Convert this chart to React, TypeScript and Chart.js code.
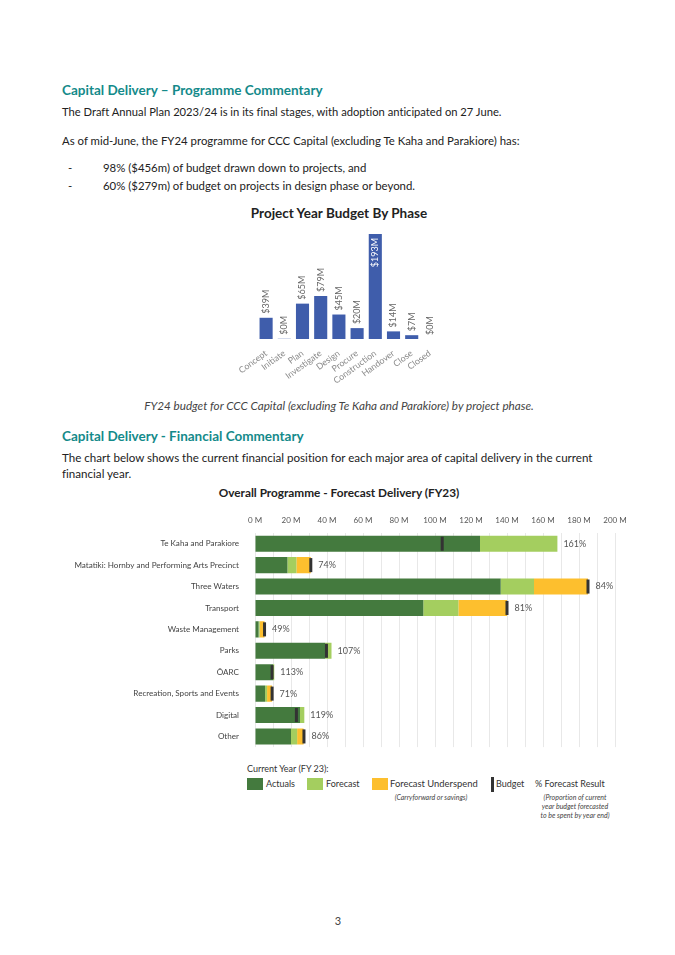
import React, { useEffect, useRef } from "react";
import { Chart, registerables } from "chart.js";
Chart.register(...registerables);

const phases = ["Concept", "Initiate", "Plan", "Investigate", "Design", "Procure", "Construction", "Handover", "Close", "Closed"];
const phaseBudget = [39, 0.4, 65, 79, 45, 20, 193, 14, 7, 0];

const areas = [
  "Te Kaha and Parakiore",
  "Matatiki: Hornby and Performing Arts Precinct",
  "Three Waters",
  "Transport",
  "Waste Management",
  "Parks",
  "ŌARC",
  "Recreation, Sports and Events",
  "Digital",
  "Other",
];
const actuals = [125, 18, 136.5, 93.5, 2.0, 39, 10, 5.6, 25, 20];
const forecast = [43, 5, 18.5, 19.5, 0.6, 3.5, 0.7, 1.1, 2.4, 3.4];
const underspend = [0, 8, 30, 27, 2.7, 0, 0, 2.8, 0, 3.6];
const budget = [104, 31, 185, 140, 5.3, 39.7, 9.5, 9.5, 23, 27.2];
const forecastResult = ["161%", "74%", "84%", "81%", "49%", "107%", "113%", "71%", "119%", "86%"];

const BLUE = "#3f5dab";
const DARK_GREEN = "#447a3e";
const LIGHT_GREEN = "#a4ce5f";
const AMBER = "#fdbf2e";
const BUDGET = "#333333";
const TEAL = "#148a8a";
const DOC_FONT = "Lato, 'Open Sans', sans-serif";

const phaseLabelsPlugin = {
  id: "phaseLabels",
  afterDatasetsDraw(chart: any) {
    const ctx = chart.ctx;
    const meta = chart.getDatasetMeta(0);
    ctx.save();
    ctx.font = `9px ${DOC_FONT}`;
    meta.data.forEach((bar: any, i: number) => {
      const label = `$${Math.round(phaseBudget[i])}M`;
      const inside = phaseBudget[i] > 150;
      ctx.save();
      ctx.translate(bar.x, inside ? bar.y + 4 : bar.y - 4);
      ctx.rotate(-Math.PI / 2);
      ctx.textAlign = inside ? "right" : "left";
      ctx.textBaseline = "middle";
      ctx.fillStyle = inside ? "#ffffff" : "#666666";
      ctx.fillText(label, 0, 0);
      ctx.restore();
    });
    ctx.restore();
  },
};

const budgetPlugin = {
  id: "budgetMarks",
  afterDatasetsDraw(chart: any) {
    const ctx = chart.ctx;
    const xs = chart.scales.x;
    const meta = chart.getDatasetMeta(0);
    ctx.save();
    meta.data.forEach((bar: any, i: number) => {
      const h = bar.height;
      const bx = xs.getPixelForValue(budget[i]);
      ctx.fillStyle = BUDGET;
      ctx.fillRect(bx - 1.5, bar.y - h / 2 + 1, 3, h - 2);
      const total = actuals[i] + forecast[i] + underspend[i];
      const endX = Math.max(xs.getPixelForValue(total), bx + 1.5);
      ctx.font = `9px ${DOC_FONT}`;
      ctx.fillStyle = "#555555";
      ctx.textAlign = "left";
      ctx.textBaseline = "middle";
      ctx.fillText(forecastResult[i], endX + 6, bar.y);
    });
    ctx.restore();
  },
};

function PhaseChart() {
  const ref = useRef<HTMLCanvasElement | null>(null);
  useEffect(() => {
    if (!ref.current) return;
    const chart = new Chart(ref.current, {
      type: "bar",
      data: {
        labels: phases,
        datasets: [
          {
            data: phaseBudget,
            backgroundColor: BLUE,
            categoryPercentage: 1,
            barPercentage: 0.72,
          },
        ],
      },
      options: {
        animation: false,
        responsive: false,
        maintainAspectRatio: false,
        layout: { padding: { left: 37, right: 21, top: 6, bottom: 0 } },
        plugins: { legend: { display: false }, tooltip: { enabled: false } },
        scales: {
          y: { display: false, min: 0, max: 193 },
          x: {
            grid: { display: false },
            border: { display: false },
            ticks: {
              autoSkip: false,
              minRotation: 36,
              maxRotation: 36,
              color: "#8a8a8a",
              font: { family: DOC_FONT, size: 8.8 },
              padding: 1,
            },
            afterFit: (s: any) => {
              s.height = 49;
            },
          },
        },
      },
      plugins: [phaseLabelsPlugin],
    });
    return () => chart.destroy();
  }, []);
  return <canvas ref={ref} width={240} height={160} style={{ position: "absolute", left: 220, top: 228, width: 240, height: 160 }} />;
}

function ForecastChart() {
  const ref = useRef<HTMLCanvasElement | null>(null);
  useEffect(() => {
    if (!ref.current) return;
    const chart = new Chart(ref.current, {
      type: "bar",
      data: {
        labels: areas,
        datasets: [
          { label: "Actuals", data: actuals, backgroundColor: DARK_GREEN, categoryPercentage: 1, barPercentage: 0.75 },
          { label: "Forecast", data: forecast, backgroundColor: LIGHT_GREEN, categoryPercentage: 1, barPercentage: 0.75 },
          { label: "Forecast Underspend", data: underspend, backgroundColor: AMBER, categoryPercentage: 1, barPercentage: 0.75 },
        ],
      },
      options: {
        indexAxis: "y",
        animation: false,
        responsive: false,
        maintainAspectRatio: false,
        layout: { padding: { left: 0, right: 25, top: 0, bottom: 2 } },
        plugins: { legend: { display: false }, tooltip: { enabled: false } },
        scales: {
          x: {
            position: "top",
            stacked: true,
            min: 0,
            max: 200,
            grid: { color: "#e8e8e8", drawTicks: false },
            border: { display: false },
            ticks: {
              stepSize: 10,
              autoSkip: false,
              maxRotation: 0,
              color: "#555555",
              font: { family: DOC_FONT, size: 8 },
              padding: 8,
              callback: (v: any) => (Number(v) % 20 === 0 ? `${v} M` : ""),
            },
            afterFit: (s: any) => {
              s.height = 28;
            },
          },
          y: {
            stacked: true,
            grid: { display: false },
            border: { display: false },
            ticks: { color: "#444444", font: { family: DOC_FONT, size: 8.1 }, padding: 8 },
            afterFit: (s: any) => {
              s.width = 195;
            },
          },
        },
      },
      plugins: [budgetPlugin],
    });
    return () => chart.destroy();
  }, []);
  return <canvas ref={ref} width={580} height={255} style={{ position: "absolute", left: 60, top: 505, width: 580, height: 255 }} />;
}

function T(props: { x: number; y: number; size?: number; bold?: boolean; italic?: boolean; color?: string; center?: boolean; children: any; w?: number }) {
  const { x, y, size = 11.4, bold, italic, color = "#222", center, children, w } = props;
  const lh = 16;
  const style: any = {
    position: "absolute",
    top: y - lh / 2,
    lineHeight: `${lh}px`,
    fontSize: size,
    fontFamily: DOC_FONT,
    fontWeight: bold ? 700 : 400,
    fontStyle: italic ? "italic" : "normal",
    fontVariantLigatures: "none",
    color,
    whiteSpace: "nowrap",
  };
  if (center) {
    style.left = x - (w || 500) / 2;
    style.width = w || 500;
    style.textAlign = "center";
  } else {
    style.left = x;
  }
  return <div style={style}>{children}</div>;
}

function Swatch({ x, y, color, w = 16, h = 12 }: { x: number; y: number; color: string; w?: number; h?: number }) {
  return <div style={{ position: "absolute", left: x, top: y, width: w, height: h, background: color }} />;
}

export default function App() {
  return (
    <div style={{ position: "absolute", left: 0, top: 0, width: 675, height: 955, background: "#fff", overflow: "hidden" }}>
      <T x={62} y={90} size={13.5} bold color={TEAL}>Capital Delivery – Programme Commentary</T>
      <T x={62} y={112} size={11.2}>The Draft Annual Plan 2023/24 is in its final stages, with adoption anticipated on 27 June.</T>
      <T x={62} y={141}>As of mid-June, the FY24 programme for CCC Capital (excluding Te Kaha and Parakiore) has:</T>
      <T x={68} y={168}>-</T>
      <T x={103} y={168}>98% ($456m) of budget drawn down to projects, and</T>
      <T x={68} y={186}>-</T>
      <T x={103} y={186}>60% ($279m) of budget on projects in design phase or beyond.</T>
      <T x={339} y={213} size={13.5} bold center color="#222">Project Year Budget By Phase</T>
      <PhaseChart />
      <T x={339} y={405} size={11.7} italic center color="#444" w={560}>FY24 budget for CCC Capital (excluding Te Kaha and Parakiore) by project phase.</T>
      <T x={62} y={436} size={13.5} bold color={TEAL}>Capital Delivery - Financial Commentary</T>
      <T x={62} y={458} size={11.6}>The chart below shows the current financial position for each major area of capital delivery in the current</T>
      <T x={62} y={474} size={11.6}>financial year.</T>
      <T x={339} y={493} size={11.8} bold center color="#222">Overall Programme - Forecast Delivery (FY23)</T>
      <ForecastChart />
      <T x={247} y={769} size={9} color="#333">Current Year (FY 23):</T>
      <Swatch x={247} y={778} color={DARK_GREEN} />
      <T x={266} y={784} size={9} color="#333">Actuals</T>
      <Swatch x={307} y={778} color={LIGHT_GREEN} />
      <T x={326} y={784} size={9} color="#333">Forecast</T>
      <Swatch x={372} y={778} color={AMBER} />
      <T x={390} y={784} size={9.4} color="#333">Forecast Underspend</T>
      <T x={431} y={797} size={7} italic center w={120} color="#444">(Carryforward or savings)</T>
      <Swatch x={491} y={777} w={3} h={15} color={BUDGET} />
      <T x={496} y={784} size={9} color="#333">Budget</T>
      <T x={535} y={784} size={9} color="#333">% Forecast Result</T>
      <T x={575} y={797} size={7} italic center w={120} color="#444">(Proportion of current</T>
      <T x={575} y={806} size={7} italic center w={120} color="#444">year budget forecasted</T>
      <T x={575} y={815} size={7} italic center w={120} color="#444">to be spent by year end)</T>
      <T x={338} y={921} size={11} center w={40} color="#444">3</T>
    </div>
  );
}
